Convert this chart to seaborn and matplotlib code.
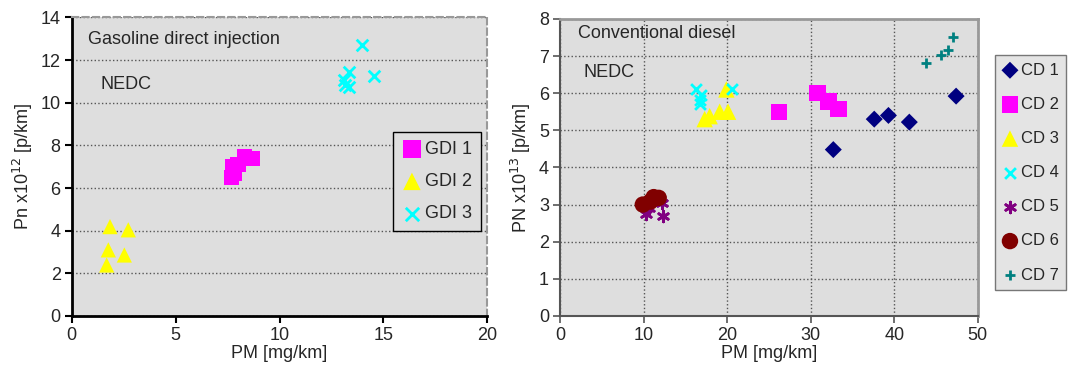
import pandas as pd
import seaborn as sns
import matplotlib.pyplot as plt

# Gasoline direct injection (PM mg/km, Pn x10^12 p/km)
gdi1_pm = [7.67, 7.75, 7.83, 8.0, 8.31, 8.71]
gdi1_pn = [6.48, 7.01, 6.7, 7.09, 7.48, 7.4]
gdi2_pm = [1.84, 2.72, 1.76, 2.53, 1.68]
gdi2_pn = [4.19, 4.04, 3.1, 2.86, 2.39]
gdi3_pm = [13.96, 13.35, 13.11, 13.35, 14.55, 13.16]
gdi3_pn = [12.72, 11.42, 11.08, 10.74, 11.24, 10.85]

# Conventional diesel (PM mg/km, PN x10^13 p/km)
cd1_pm = [32.7, 37.6, 39.3, 41.8, 47.4]
cd1_pn = [4.48, 5.3, 5.4, 5.22, 5.92]
cd2_pm = [26.2, 30.8, 32.1, 33.3]
cd2_pn = [5.5, 6.0, 5.78, 5.58]
cd3_pm = [17.3, 17.9, 19.1, 20.1, 19.9]
cd3_pn = [5.3, 5.38, 5.5, 5.5, 6.1]
cd4_pm = [16.3, 16.9, 16.8, 16.8, 20.6]
cd4_pn = [6.12, 5.95, 5.82, 5.7, 6.12]
cd5_pm = [10.3, 10.6, 12.2, 12.3]
cd5_pn = [2.75, 2.9, 3.05, 2.68]
cd6_pm = [9.9, 10.8, 11.2, 11.8]
cd6_pn = [3.0, 3.08, 3.2, 3.18]
cd7_pm = [43.8, 45.6, 46.4, 47.0]
cd7_pn = [6.82, 7.02, 7.17, 7.5]

gdi_names = ['GDI 1', 'GDI 2', 'GDI 3']
cd_names = ['CD 1', 'CD 2', 'CD 3', 'CD 4', 'CD 5', 'CD 6', 'CD 7']

def build(names, xs, ys):
    frames = []
    for n, x, y in zip(names, xs, ys):
        frames.append(pd.DataFrame({'PM': x, 'PN': y, 'veh': n}))
    return pd.concat(frames, ignore_index=True)

gdi = build(gdi_names, [gdi1_pm, gdi2_pm, gdi3_pm], [gdi1_pn, gdi2_pn, gdi3_pn])
cd = build(cd_names,
           [cd1_pm, cd2_pm, cd3_pm, cd4_pm, cd5_pm, cd6_pm, cd7_pm],
           [cd1_pn, cd2_pn, cd3_pn, cd4_pn, cd5_pn, cd6_pn, cd7_pn])

gdi_colors = {'GDI 1': '#ff00ff', 'GDI 2': '#ffff00', 'GDI 3': '#00ffff'}
gdi_markers = {'GDI 1': 's', 'GDI 2': '^', 'GDI 3': 'x'}
cd_colors = {'CD 1': '#000080', 'CD 2': '#ff00ff', 'CD 3': '#ffff00', 'CD 4': '#00ffff',
             'CD 5': '#800080', 'CD 6': '#800000', 'CD 7': '#008080'}
cd_markers = {'CD 1': 'D', 'CD 2': 's', 'CD 3': '^', 'CD 4': 'x',
              'CD 5': (6, 2, 0), 'CD 6': 'o', 'CD 7': '+'}
line_markers = ['x', '+', (6, 2, 0)]

sns.set_style('white')
plt.rcParams['font.family'] = ['Liberation Sans', 'DejaVu Sans']
plt.rcParams['font.size'] = 13
bg = '#dedede'

fig = plt.figure(figsize=(10.71, 3.70), dpi=100)
ax1 = fig.add_axes([0.067, 0.146, 0.388, 0.807])
ax2 = fig.add_axes([0.523, 0.146, 0.390, 0.803])

# ---- left panel
ax1.set_facecolor(bg)
for n in gdi_names:
    sub = gdi[gdi.veh == n]
    lw = 2 if gdi_markers[n] in line_markers else 0
    sns.scatterplot(data=sub, x='PM', y='PN', color=gdi_colors[n], marker=gdi_markers[n],
                    s=120 if n != 'GDI 3' else 70, linewidth=lw,
                    edgecolor=gdi_colors[n] if lw else 'none',
                    label=n, ax=ax1, zorder=3)
ax1.set_xlim(0, 20)
ax1.set_ylim(0, 14)
ax1.set_xticks([0, 5, 10, 15, 20])
ax1.set_yticks(range(0, 15, 2))
ax1.yaxis.grid(True, linestyle=':', color='#555555', linewidth=1)
ax1.set_axisbelow(True)
ax1.set_xlabel('PM [mg/km]', labelpad=1)
ax1.set_ylabel('Pn x10$^{12}$ [p/km]', labelpad=4)
for s in ['top', 'right']:
    ax1.spines[s].set_color('#999999')
    ax1.spines[s].set_linestyle((0, (3, 2)))
    ax1.spines[s].set_linewidth(1.5)
for s in ['left', 'bottom']:
    ax1.spines[s].set_color('black')
    ax1.spines[s].set_linewidth(2)
ax1.tick_params(direction='out', length=5, width=1.5, color='black', bottom=True, left=True,
                pad=3, labelsize=13)
ax1.text(0.04, 0.925, 'Gasoline direct injection', transform=ax1.transAxes, va='center', fontsize=13)
ax1.text(0.068, 0.775, 'NEDC', transform=ax1.transAxes, va='center', fontsize=13)
leg1 = ax1.legend(loc='upper left', bbox_to_anchor=(0.773, 0.617), borderaxespad=0,
                  frameon=True, fancybox=False, edgecolor='black', facecolor=bg, framealpha=1,
                  handletextpad=0.15, borderpad=0.5, labelspacing=0.85, handlelength=1.1,
                  fontsize=13, markerscale=1.15)
leg1.get_frame().set_linewidth(1)

# ---- right panel
ax2.set_facecolor(bg)
sizes = {'CD 1': 75, 'CD 2': 140, 'CD 3': 140, 'CD 4': 60, 'CD 5': 60, 'CD 6': 140, 'CD 7': 60}
for n in cd_names:
    sub = cd[cd.veh == n]
    is_line = cd_markers[n] in line_markers
    sns.scatterplot(data=sub, x='PM', y='PN', color=cd_colors[n], marker=cd_markers[n],
                    s=sizes[n], linewidth=2 if is_line else 0,
                    edgecolor=cd_colors[n] if is_line else 'none',
                    label=n, ax=ax2, zorder=3)
ax2.set_xlim(0, 50)
ax2.set_ylim(0, 8)
ax2.set_xticks(range(0, 51, 10))
ax2.set_yticks(range(0, 9))
ax2.grid(True, linestyle=':', color='#555555', linewidth=1)
ax2.set_axisbelow(True)
ax2.set_xlabel('PM [mg/km]', labelpad=1)
ax2.set_ylabel('PN x10$^{13}$ [p/km]', labelpad=4)
for s in ['top', 'right']:
    ax2.spines[s].set_color('#999999')
    ax2.spines[s].set_linewidth(2)
for s in ['left', 'bottom']:
    ax2.spines[s].set_color('#555555')
    ax2.spines[s].set_linewidth(1.5)
ax2.tick_params(direction='out', length=5, width=1.2, color='#555555', bottom=True, left=True,
                pad=3, labelsize=13)
ax2.text(0.043, 0.95, 'Conventional diesel', transform=ax2.transAxes, va='center', fontsize=13)
ax2.text(0.057, 0.82, 'NEDC', transform=ax2.transAxes, va='center', fontsize=13)
leg2 = ax2.legend(loc='upper left', bbox_to_anchor=(0.929, 0.851), bbox_transform=fig.transFigure,
                  borderaxespad=0, frameon=True, fancybox=False, edgecolor='#777777',
                  facecolor='#e4e4e4', framealpha=1, handletextpad=0.2, borderpad=0.45,
                  labelspacing=1.15, handlelength=0.9, fontsize=12)
leg2.get_frame().set_linewidth(1)

fig.savefig('out.png', dpi=100)
